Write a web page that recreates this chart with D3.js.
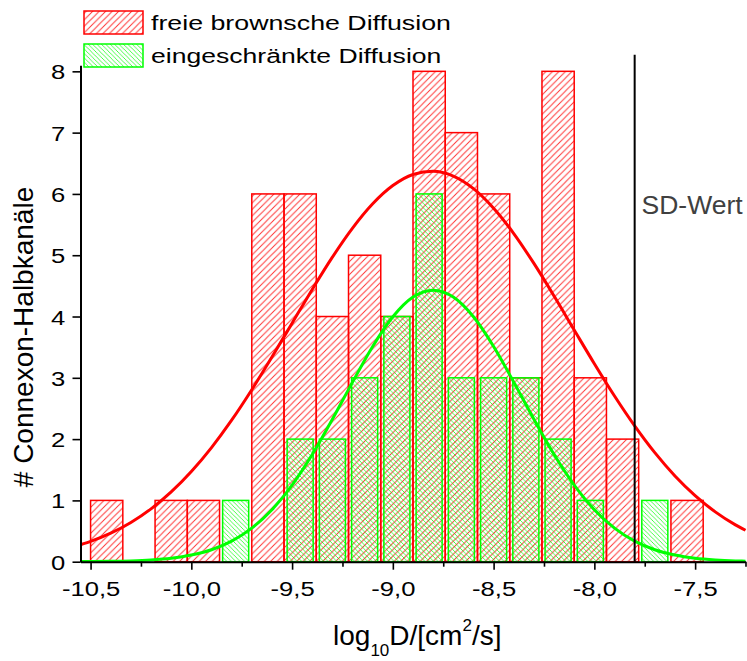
<!DOCTYPE html>
<html><head><meta charset="utf-8">
<script src="https://cdn.jsdelivr.net/npm/d3@7"></script>
<style>body{margin:0;background:#fff} text{font-family:"Liberation Sans",Arial,sans-serif}</style>
</head><body>
<script>
// ---- data ----
const binCenters = [-10.42,-10.26,-10.10,-9.94,-9.78,-9.62,-9.46,-9.30,-9.14,-8.98,-8.82,-8.66,-8.50,-8.34,-8.18,-8.02,-7.86,-7.70,-7.54];
const binWidth = 0.16;
const freieCounts = [1,0,1,1,0,6,6,4,5,4,8,7,6,3,8,3,2,0,1];
const eingCounts  = [0,0,0,0,1,0,2,2,3,4,6,3,3,3,2,1,0,1,0];
const seriesNames = ["freie brownsche Diffusion","eingeschränkte Diffusion"];
// fitted Gaussian curves
const fitX = [-10.55,-10.5,-10.4,-10.3,-10.2,-10.1,-10.0,-9.9,-9.8,-9.7,-9.6,-9.5,-9.4,-9.3,-9.2,-9.1,-9.0,-8.9,-8.8,-8.7,-8.6,-8.5,-8.4,-8.3,-8.2,-8.1,-8.0,-7.9,-7.8,-7.7,-7.6,-7.5,-7.4,-7.3,-7.25];
const freieFit = [0.277,0.331,0.465,0.640,0.862,1.138,1.471,1.862,2.309,2.806,3.339,3.891,4.442,4.968,5.442,5.839,6.136,6.317,6.369,6.291,6.086,5.767,5.353,4.866,4.334,3.780,3.230,2.703,2.216,1.779,1.399,1.078,0.813,0.601,0.513];
const eingFit  = [0.002,0.003,0.006,0.013,0.028,0.056,0.108,0.195,0.335,0.547,0.848,1.250,1.748,2.323,2.930,3.511,3.995,4.317,4.430,4.317,3.995,3.511,2.930,2.323,1.748,1.250,0.848,0.547,0.335,0.195,0.108,0.056,0.028,0.013,0.009];
const xMajorTicks = [-10.5,-10.0,-9.5,-9.0,-8.5,-8.0,-7.5];
const xTickLabels = ["-10,5","-10,0","-9,5","-9,0","-8,5","-8,0","-7,5"];
const xMinorTicks = [-10.25,-9.75,-9.25,-8.75,-8.25,-7.75,-7.25];
const yTicks = [0,1,2,3,4,5,6,7,8];
const sdWert = -7.8;
const sdLabel = "SD-Wert";

const RED = "#ff0000", GREEN = "#00ff00";
const svg = d3.select("body").append("svg").attr("width",747).attr("height",661);
const x = d3.scaleLinear().domain([-10.55,-7.25]).range([80.5,745.5]);
const y = d3.scaleLinear().domain([0,8.1]).range([561.7,65.2]);

const defs = svg.append("defs");
const rs = 6.5;
defs.append("pattern").attr("id","hRed").attr("patternUnits","userSpaceOnUse")
  .attr("width",rs).attr("height",rs)
  .append("path").attr("d",`M-1,1 L1,-1 M0,${rs} L${rs},0 M${rs-1},${rs+1} L${rs+1},${rs-1}`)
  .attr("stroke","#ff3030").attr("stroke-width",0.95).attr("fill","none");
const gs = 4.4;
defs.append("pattern").attr("id","hGreen").attr("patternUnits","userSpaceOnUse")
  .attr("width",gs).attr("height",gs)
  .append("path").attr("d",`M-1,${gs-1} L1,${gs+1} M0,0 L${gs},${gs} M${gs-1},-1 L${gs+1},1`)
  .attr("stroke","#10ff10").attr("stroke-width",0.75).attr("fill","none");

// red bars
const redData = binCenters.map((c,i)=>({c, v:freieCounts[i]})).filter(d=>d.v>0);
svg.append("g").selectAll("rect").data(redData).join("rect")
  .attr("x",d=>x(d.c-binWidth/2)).attr("width",d=>x(d.c+binWidth/2)-x(d.c-binWidth/2))
  .attr("y",d=>y(d.v)).attr("height",d=>y(0)-y(d.v))
  .attr("fill","url(#hRed)").attr("stroke",RED).attr("stroke-width",1.5);
// green bars (narrower)
const greenData = binCenters.map((c,i)=>({c, v:eingCounts[i]})).filter(d=>d.v>0);
const inset = 3.1;
svg.append("g").selectAll("rect").data(greenData).join("rect")
  .attr("x",d=>x(d.c-binWidth/2)+inset).attr("width",d=>x(d.c+binWidth/2)-x(d.c-binWidth/2)-2*inset)
  .attr("y",d=>y(d.v)).attr("height",d=>y(0)-y(d.v))
  .attr("fill","url(#hGreen)").attr("stroke",GREEN).attr("stroke-width",1.5);

// fit curves
const line = d3.line().x(d=>x(d[0])).y(d=>y(d[1])).curve(d3.curveMonotoneX);
svg.append("path").attr("d",line(fitX.map((v,i)=>[v,freieFit[i]])))
  .attr("fill","none").attr("stroke",RED).attr("stroke-width",3);
svg.append("path").attr("d",line(fitX.map((v,i)=>[v,eingFit[i]])))
  .attr("fill","none").attr("stroke",GREEN).attr("stroke-width",3);

// SD line
svg.append("line").attr("x1",x(sdWert)).attr("x2",x(sdWert)).attr("y1",y(0)).attr("y2",y(8.27))
  .attr("stroke","#000").attr("stroke-width",2);
svg.append("text").attr("x",641.5).attr("y",214).attr("font-size",26.5).attr("fill","#404040").text(sdLabel);

// axes
const xAxisMinor = svg.append("g").attr("transform",`translate(0,${y(0)})`)
  .call(d3.axisBottom(x).tickValues(xMinorTicks).tickSize(5).tickSizeOuter(0).tickFormat(""));
const xAxis = svg.append("g").attr("transform",`translate(0,${y(0)})`)
  .call(d3.axisBottom(x).tickValues(xMajorTicks).tickSize(8).tickSizeOuter(0)
    .tickFormat((d,i)=>xTickLabels[i]));
const yAxis = svg.append("g").attr("transform",`translate(${x(-10.55)},0)`)
  .call(d3.axisLeft(y).tickValues(yTicks).tickSize(8).tickSizeOuter(0).tickFormat(d=>String(d)));
[xAxis,xAxisMinor,yAxis].forEach(g=>{
  g.select(".domain").attr("stroke","#000").attr("stroke-width",2);
  g.selectAll(".tick line").attr("stroke","#000").attr("stroke-width",1.6);
});
xAxisMinor.select(".domain").remove();
xAxis.selectAll(".tick text").attr("font-size",21).attr("fill","#000")
  .attr("y",34).attr("dy",0).attr("transform","scale(1.22,1)");
yAxis.selectAll(".tick text").attr("font-size",21).attr("fill","#000")
  .attr("x",-12.5).attr("dy","0.36em").attr("transform","scale(1.22,1)");

// axis titles
svg.append("text").attr("transform","translate(33,337) rotate(-90)").attr("text-anchor","middle")
  .attr("font-size",28).attr("fill","#000").text("# Connexon-Halbkanäle");
const xt = svg.append("text").attr("x",333).attr("y",645).attr("font-size",28).attr("fill","#000");
xt.append("tspan").text("log");
xt.append("tspan").attr("font-size",17).attr("dy",11).text("10");
xt.append("tspan").attr("dy",-11).text("D/[cm");
xt.append("tspan").attr("font-size",17).attr("dy",-14).text("2");
xt.append("tspan").attr("dy",14).text("/s]");

// legend
const leg = svg.append("g");
leg.append("rect").attr("x",84).attr("y",11).attr("width",59).attr("height",23)
  .attr("fill","url(#hRed)").attr("stroke",RED).attr("stroke-width",1.5);
leg.append("rect").attr("x",84).attr("y",44).attr("width",59).attr("height",23)
  .attr("fill","url(#hGreen)").attr("stroke",GREEN).attr("stroke-width",1.5);
leg.append("text").attr("transform","translate(151,30) scale(1.275,1)").attr("font-size",21).attr("fill","#000").text(seriesNames[0]);
leg.append("text").attr("transform","translate(151,63.3) scale(1.265,1)").attr("font-size",21).attr("fill","#000").text(seriesNames[1]);
</script>
</body></html>
